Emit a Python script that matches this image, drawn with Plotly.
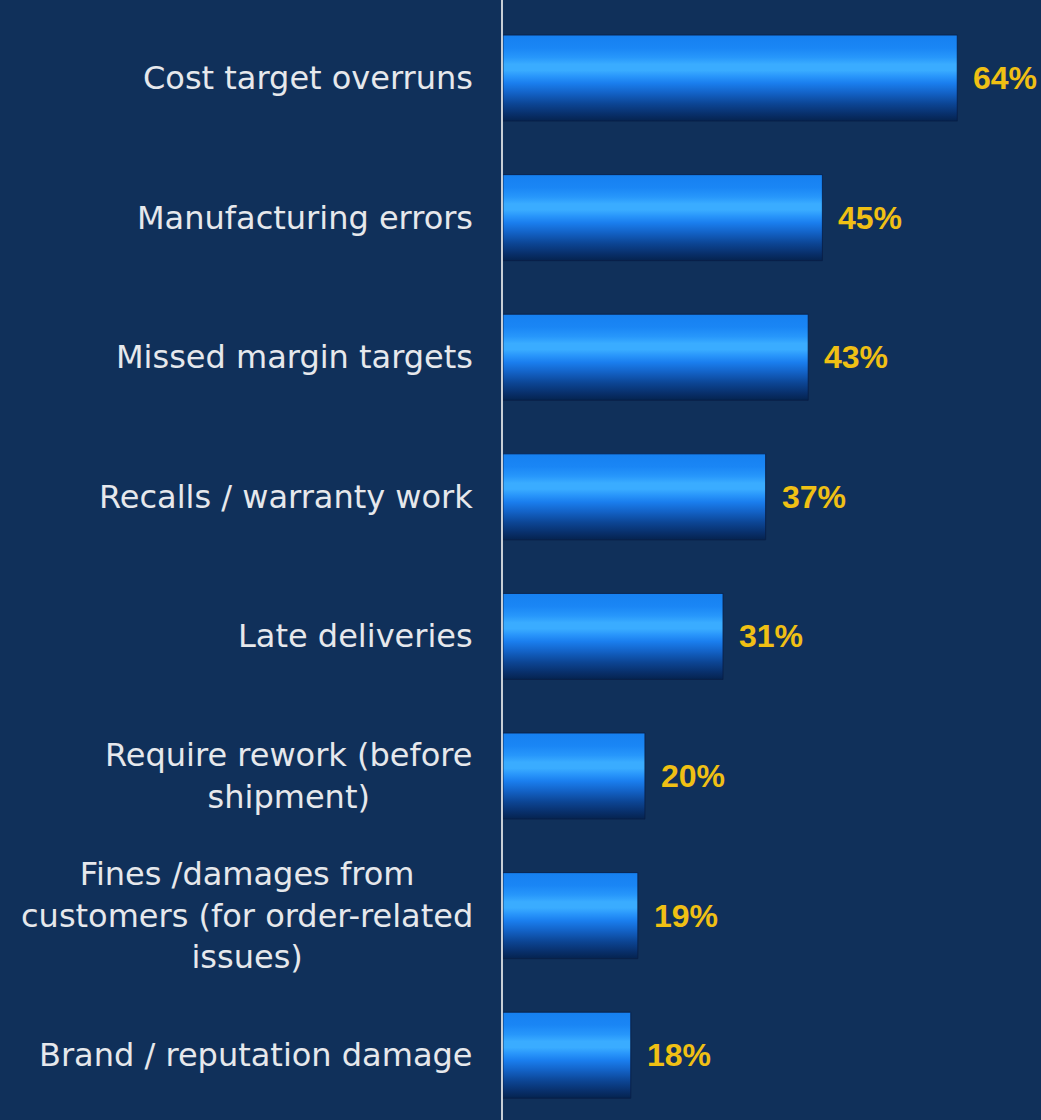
import plotly.graph_objects as go

# Survey results: consequences of order / configuration issues
categories = [
    "Cost target overruns",
    "Manufacturing errors",
    "Missed margin targets",
    "Recalls / warranty work",
    "Late deliveries",
    "Require rework (before<br>shipment)",
    "Fines /damages from<br>customers (for order-related<br>issues)",
    "Brand / reputation damage",
]
values = [64, 45, 43, 37, 31, 20, 19, 18]

BG = "#10305a"
GOLD = "#f0c014"
LABEL = "#e6e8ec"
HALF = 0.308  # half bar thickness in category units

# vertical cylinder-like shading, bottom (0) to top (1)
bar_scale = [
    [0.00, "#05234f"],
    [0.08, "#082f6a"],
    [0.20, "#0c4594"],
    [0.33, "#1363c8"],
    [0.44, "#1a7eee"],
    [0.52, "#2996fb"],
    [0.59, "#3aacff"],
    [0.66, "#3aacff"],
    [0.74, "#2797fb"],
    [0.85, "#1a86f5"],
    [1.00, "#1680f0"],
]

n = len(categories)
fig = go.Figure()
annotations = []
for i, (cat, v) in enumerate(zip(categories, values)):
    yc = n - 1 - i
    fig.add_trace(go.Scatter(
        x=[0, v, v, 0, 0],
        y=[yc - HALF, yc - HALF, yc + HALF, yc + HALF, yc - HALF],
        mode="lines",
        fill="toself",
        fillgradient=dict(type="vertical", colorscale=bar_scale,
                          start=yc - HALF, stop=yc + HALF),
        line=dict(color="rgba(8,30,70,0.85)", width=1),
        hoverinfo="skip",
        showlegend=False,
    ))
    annotations.append(dict(
        x=0, xref="paper", y=yc, yref="y",
        text=cat, showarrow=False,
        xanchor="right", yanchor="middle", align="center",
        xshift=-28,
        font=dict(family="DejaVu Sans", size=32, color=LABEL),
    ))
    annotations.append(dict(
        x=v, xref="x", y=yc, yref="y",
        text=f"{v}%", showarrow=False,
        xanchor="left", yanchor="middle",
        xshift=14,
        font=dict(family="Liberation Sans", size=32, color=GOLD, weight="bold"),
    ))

fig.update_layout(
    width=1041, height=1120,
    margin=dict(l=503, r=0, t=0, b=0),
    paper_bgcolor=BG, plot_bgcolor=BG,
    annotations=annotations,
    xaxis=dict(range=[0, 75.8], visible=False, fixedrange=True),
    yaxis=dict(
        range=[-0.464, 7.559],
        showticklabels=False, showgrid=False, zeroline=False, ticks="",
        showline=True, linecolor="#c8ced6", linewidth=2, mirror=False,
        fixedrange=True,
    ),
)

fig.write_html("out.html")
